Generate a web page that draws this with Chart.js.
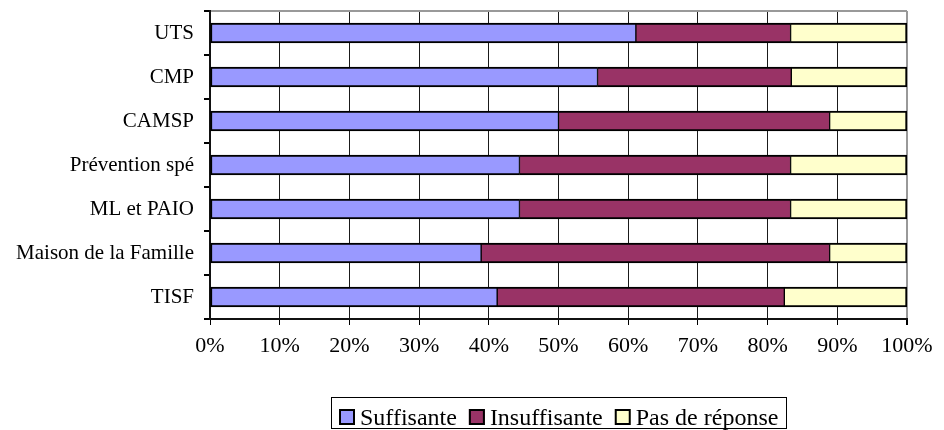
<!DOCTYPE html>
<html>
<head>
<meta charset="utf-8">
<script src="https://cdn.jsdelivr.net/npm/chart.js@4/dist/chart.umd.min.js"></script>
<style>
  html, body { margin: 0; padding: 0; background: #fff; }
  #wrap { width: 944px; height: 430px; }
</style>
</head>
<body>
<div id="wrap"><canvas id="c" width="944" height="430"></canvas></div>
<script>
// Structures, top to bottom
const categories = ['UTS', 'CMP', 'CAMSP', 'Prévention spé', 'ML et PAIO', 'Maison de la Famille', 'TISF'];

// Share of answers per structure (%)
const suffisante   = [61.1, 55.6, 50.0, 44.4, 44.4, 38.9, 41.2];
const insuffisante = [22.2, 27.8, 38.9, 38.9, 38.9, 50.0, 41.2];
const pasDeReponse = [16.7, 16.6, 11.1, 16.7, 16.7, 11.1, 17.6];

const seriesNames = ['Suffisante', 'Insuffisante', 'Pas de réponse'];
const seriesColors = ['#9999FF', '#993366', '#FFFFCC'];

// Percent axis ticks
const xTickValues = [0, 10, 20, 30, 40, 50, 60, 70, 80, 90, 100];

const SERIF = '"Liberation Serif", "Times New Roman", serif';

// Legend drawn in a framed box under the plot
const boxedLegend = {
  id: 'boxedLegend',
  afterDraw(chart) {
    const ctx = chart.ctx;
    ctx.save();
    ctx.font = '24px ' + SERIF;
    const sw = 16, gap = 5, itemGap = 12, padL = 8, padR = 8;
    const items = chart.data.datasets.map(d => ({
      text: d.label, color: d.backgroundColor, w: ctx.measureText(d.label).width
    }));
    const total = padL + padR + items.reduce((s, it) => s + sw + gap + it.w, 0) + itemGap * (items.length - 1);
    const cx = (chart.chartArea.left + chart.chartArea.right) / 2;
    const left = Math.round(cx - total / 2);
    const top = 397, h = 31;
    ctx.strokeStyle = '#000';
    ctx.lineWidth = 1;
    ctx.strokeRect(left + 0.5, top + 0.5, Math.round(total), h);
    let x = left + padL;
    items.forEach(it => {
      ctx.fillStyle = it.color;
      ctx.fillRect(x, 409, sw, sw);
      ctx.lineWidth = 2;
      ctx.strokeStyle = '#000';
      ctx.strokeRect(x + 1, 410, sw - 2, sw - 2);
      ctx.fillStyle = '#000';
      ctx.textBaseline = 'alphabetic';
      ctx.textAlign = 'left';
      ctx.fillText(it.text, x + sw + gap, 425);
      x += sw + gap + it.w + itemGap;
    });
    ctx.restore();
  }
};

const seriesValues = [suffisante, insuffisante, pasDeReponse];
const lastIdx = seriesValues.length - 1;

new Chart(document.getElementById('c'), {
  type: 'bar',
  data: {
    labels: categories,
    datasets: seriesValues.map((vals, i) => ({
      label: seriesNames[i],
      data: vals,
      backgroundColor: seriesColors[i],
      borderColor: '#000',
      borderWidth: { top: 2, bottom: 2, left: i === 0 ? 2 : 1, right: i === lastIdx ? 2 : 1 },
      borderSkipped: false,
      barThickness: 20
    }))
  },
  options: {
    indexAxis: 'y',
    responsive: false,
    animation: false,
    devicePixelRatio: 1,
    layout: { padding: { top: 11, right: 37, left: 0, bottom: 0 } },
    plugins: {
      legend: { display: false },
      tooltip: { enabled: false }
    },
    scales: {
      x: {
        stacked: true,
        min: 0,
        max: 100,
        afterFit(scale) { scale.height = 111; },
        afterBuildTicks(scale) { scale.ticks = xTickValues.map(v => ({ value: v })); },
        ticks: {
          font: { family: SERIF, size: 22 },
          color: '#000',
          padding: 8,
          maxRotation: 0,
          callback: v => v + '%'
        },
        grid: {
          color: c => (c.tick && c.tick.value === 100) ? '#999' : '#1a1a1a',
          lineWidth: c => (c.tick && c.tick.value === 100) ? 2 : 1,
          tickColor: '#000',
          tickLength: 6
        },
        border: { color: '#111', width: 2 }
      },
      y: {
        stacked: true,
        afterFit(scale) {
          scale.width = 210;
          scale.paddingTop = 0;
          scale.paddingBottom = 0;
        },
        ticks: {
          font: { family: SERIF, size: 21 },
          color: '#000',
          padding: 10
        },
        grid: {
          offset: true,
          color: c => c.index === 0 ? '#999' : 'rgba(0,0,0,0)',
          lineWidth: 2,
          tickColor: '#000',
          tickLength: 6
        },
        border: { color: '#111', width: 2 }
      }
    }
  },
  plugins: [boxedLegend]
});
</script>
</body>
</html>
